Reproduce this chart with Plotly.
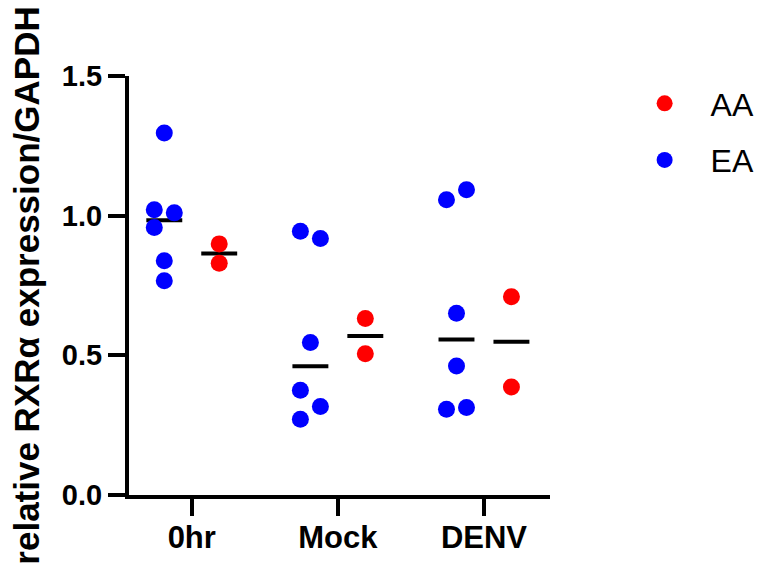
import plotly.graph_objects as go
import numpy as np

# ---- data ----
CATEGORIES = ["0hr", "Mock", "DENV"]
EA_0HR = [1.296, 1.021, 1.010, 0.958, 0.839, 0.767]
EA_MOCK = [0.944, 0.918, 0.546, 0.375, 0.317, 0.271]
EA_DENV = [1.093, 1.057, 0.651, 0.462, 0.307, 0.313]
AA_0HR = [0.899, 0.830]
AA_MOCK = [0.632, 0.506]
AA_DENV = [0.710, 0.387]
Y_TICKS = [0.0, 0.5, 1.0, 1.5]
Y_TICK_LABELS = ["0.0", "0.5", "1.0", "1.5"]

# ---- layout parameters (scatter jitter slots, not data) ----
EA_SLOTS = [[0, -1, 1, -1, 0, 0], [-1, 1, 0, -1, 1, -1], [1, -1, 0, 0, -1, 1]]
AA_SLOTS = [[0, 0], [0, 0], [0, 0]]
GROUP_OFFSET = 0.188
JITTER_STEP = 0.0685
MEDIAN_HALF = 0.123

EA = [EA_0HR, EA_MOCK, EA_DENV]
AA = [AA_0HR, AA_MOCK, AA_DENV]

FONT = "Liberation Sans, Arial, sans-serif"


def points(groups, slots, offset):
    xs, ys = [], []
    for i, (vals, sl) in enumerate(zip(groups, slots)):
        for v, s in zip(vals, sl):
            xs.append(i + offset + s * JITTER_STEP)
            ys.append(v)
    return xs, ys


def medians(groups, offset):
    xs, ys = [], []
    for i, vals in enumerate(groups):
        m = float(np.median(vals))
        c = i + offset
        xs += [c - MEDIAN_HALF, c + MEDIAN_HALF, None]
        ys += [m, m, None]
    return xs, ys


fig = go.Figure()

series = [("AA", AA, AA_SLOTS, GROUP_OFFSET, "#FF0000"),
          ("EA", EA, EA_SLOTS, -GROUP_OFFSET, "#0000FF")]

for name, groups, slots, off, col in series:
    mx, my = medians(groups, off)
    fig.add_trace(go.Scatter(x=mx, y=my, mode="lines",
                             line=dict(color="black", width=4),
                             showlegend=False, hoverinfo="skip",
                             legendgroup=name, cliponaxis=False))

for name, groups, slots, off, col in series:
    px, py = points(groups, slots, off)
    fig.add_trace(go.Scatter(x=px, y=py, mode="markers", name=name,
                             legendgroup=name,
                             marker=dict(color=col, size=17, line=dict(width=0)),
                             cliponaxis=False))

fig.update_layout(
    width=762, height=564,
    margin=dict(l=129, r=212, t=76, b=69, autoexpand=False),
    paper_bgcolor="white", plot_bgcolor="white",
    font=dict(family=FONT, color="black"),
    showlegend=True,
    legend=dict(x=1.163, y=1.0, xanchor="left", yanchor="top",
                font=dict(family=FONT, size=32, color="black"),
                itemwidth=82, tracegroupgap=12, bgcolor="rgba(0,0,0,0)"),
    xaxis=dict(range=[-0.4295, 2.452], tickmode="array",
               tickvals=list(range(len(CATEGORIES))), ticktext=CATEGORIES,
               showline=True, linecolor="black", linewidth=4,
               ticks="outside", ticklen=17, tickwidth=4, tickcolor="black",
               showgrid=False, zeroline=False, automargin=False,
               ticklabelstandoff=-5,
               tickfont=dict(family=FONT, size=31, color="black", weight="bold")),
    yaxis=dict(range=[0, 1.5], tickmode="array", tickvals=Y_TICKS,
               ticktext=Y_TICK_LABELS,
               showline=True, linecolor="black", linewidth=4,
               ticks="outside", ticklen=17, tickwidth=4, tickcolor="black",
               showgrid=False, zeroline=False, automargin=False,
               tickfont=dict(family=FONT, size=29, color="black", weight="bold"),
               title=dict(text="relative RXRα expression/GAPDH", standoff=13,
                          font=dict(family=FONT, size=35, color="black",
                                    weight="bold"))),
)

fig.write_html("out.html",
               config={"displayModeBar": False},
               post_script="document.body.style.margin='0';")
